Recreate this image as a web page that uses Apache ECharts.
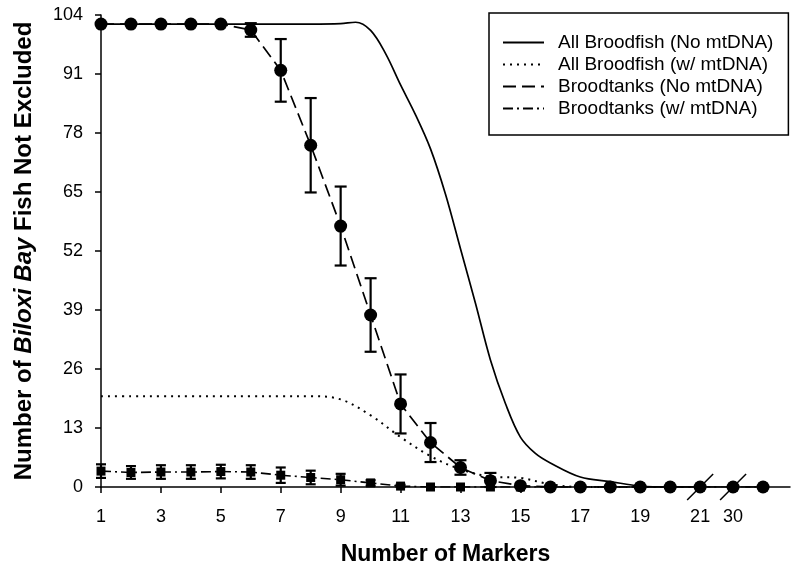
<!DOCTYPE html>
<html>
<head>
<meta charset="utf-8">
<script src="https://cdn.jsdelivr.net/npm/echarts@6/dist/echarts.min.js"></script>
<style>
    html, body { margin: 0; padding: 0; background: #fff; }
    #chart { width: 791px; height: 567px; }
</style>
</head>
<body>
<div id="chart"></div>
<script>
    // marker counts shown on the x axis (axis is broken between 21 and 30)
    var markers = [1, 2, 3, 4, 5, 6, 7, 8, 9, 10, 11, 12, 13, 14, 15, 16, 17, 18, 19, 20, 21, 30, 31];
    var xTickLabels = ['1', '3', '5', '7', '9', '11', '13', '15', '17', '19', '21', '30'];
    var yTicks = [0, 13, 26, 39, 52, 65, 78, 91, 104];

    // Broodtanks (No mtDNA): mean and error
    var tankNo = [102, 102, 102, 102, 102, 100.7, 91.8, 75.3, 57.5, 37.9, 18.3, 9.8, 4.3, 1.4, 0.3, 0, 0, 0, 0, 0, 0, 0, 0];
    var tankNoErr = [0, 0, 0, 0, 0, 1.5, 6.9, 10.4, 8.7, 8.1, 6.5, 4.3, 1.6, 1.7, 0, 0, 0, 0, 0, 0, 0, 0, 0];

    // Broodtanks (w/ mtDNA): mean and error
    var tankMt = [3.5, 3.2, 3.3, 3.3, 3.4, 3.3, 2.6, 2.1, 1.6, 0.9, 0.2, 0, 0, 0, 0, 0, 0, 0, 0, 0, 0, 0, 0];
    var tankMtErr = [1.5, 1.4, 1.5, 1.5, 1.5, 1.5, 1.7, 1.5, 1.3, 0.6, 0.3, 0, 0, 0, 0, 0, 0, 0, 0, 0, 0, 0, 0];

    // All Broodfish (No mtDNA), smooth curve
    var allNoX = [1, 2, 3, 4, 5, 6, 7, 8, 9, 9.5, 10, 10.5, 11, 11.5, 12, 12.5, 13, 13.5, 14, 14.5, 15, 15.5, 16, 17, 18, 19, 20, 21];
    var allNoY = [102, 102, 102, 102, 102, 102, 102, 102, 102.1, 102.4, 100.6, 95.5, 88.6, 82, 74.5, 64.5, 52.5, 40.5, 28, 18.4, 11, 7.4, 5.3, 2.2, 1.2, 0.2, 0, 0];

    // All Broodfish (w/ mtDNA), smooth curve
    var allMtX = [1, 2, 3, 4, 5, 6, 7, 8, 9, 10, 11, 12, 13, 14, 15, 16, 17, 18, 19, 20, 21];
    var allMtY = [20, 20, 20, 20, 20, 20, 20, 20, 19.3, 15.8, 11, 6.8, 3.9, 2.3, 2.0, 0.6, 0, 0, 0, 0, 0];

    var breakMarks = [21, 30];

    // position on the axis: after the break the markers continue right next to 21
    function pos(m) {
        return m <= 21 ? m : m - 30 + 22.1;
    }

    var labelPos = xTickLabels.map(function (t) { return pos(+t); });
    var FONT = '"Liberation Sans", Arial, sans-serif';

    function errorBars(cap) {
        return function (params, api) {
            var x = api.value(0), lo = api.value(1), hi = api.value(2);
            if (hi - lo <= 0) return;
            var a = api.coord([x, hi]);
            var b = api.coord([x, lo]);
            var st = { stroke: '#000', lineWidth: 2.2 };
            return {
                type: 'group',
                children: [
                    { type: 'line', shape: { x1: a[0], y1: a[1], x2: b[0], y2: b[1] }, style: st },
                    { type: 'line', shape: { x1: a[0] - cap, y1: a[1], x2: a[0] + cap, y2: a[1] }, style: st },
                    { type: 'line', shape: { x1: b[0] - cap, y1: b[1], x2: b[0] + cap, y2: b[1] }, style: st }
                ]
            };
        };
    }

    function errData(mean, err) {
        return markers.map(function (m, i) {
            return [pos(m), Math.max(0, mean[i] - err[i]), mean[i] + err[i]];
        });
    }

    var chart = echarts.init(document.getElementById('chart'));

    var option = {
        animation: false,
        backgroundColor: '#fff',
        grid: { left: 101, right: 1, top: 15, bottom: 80, outerBoundsMode: 'none' },
        legend: {
            data: ['All Broodfish (No mtDNA)', 'All Broodfish (w/ mtDNA)', 'Broodtanks (No mtDNA)', 'Broodtanks (w/ mtDNA)'],
            orient: 'vertical',
            left: 489,
            top: 13,
            padding: [20, 15, 17, 13],
            borderColor: '#000',
            borderWidth: 1.5,
            itemWidth: 41,
            itemHeight: 14,
            itemGap: 3,
            itemStyle: { opacity: 0 },
            textStyle: { fontSize: 19, lineHeight: 18, color: '#000', fontFamily: FONT, padding: [0, 0, 0, 9] }
        },
        xAxis: {
            type: 'value',
            min: 1,
            max: 24,
            interval: 1,
            name: 'Number of Markers',
            nameLocation: 'middle',
            nameGap: 56,
            nameTextStyle: { fontSize: 23, fontWeight: 'bold', color: '#000', fontFamily: FONT },
            splitLine: { show: false },
            axisLine: { onZero: false, lineStyle: { color: '#000', width: 1.5 } },
            axisTick: {
                customValues: labelPos.slice(0, 11),
                length: 6,
                lineStyle: { color: '#000', width: 1.5 }
            },
            axisLabel: {
                customValues: labelPos,
                margin: 21,
                fontSize: 18,
                color: '#000',
                fontFamily: FONT,
                formatter: function (v) {
                    for (var i = 0; i < labelPos.length; i++) {
                        if (Math.abs(labelPos[i] - v) < 1e-6) return xTickLabels[i];
                    }
                    return '';
                }
            }
        },
        yAxis: {
            type: 'value',
            min: 0,
            max: 104,
            interval: 13,
            name: '{b|Number of }{i|Biloxi Bay}{b| Fish Not Excluded}',
            nameLocation: 'middle',
            nameRotate: 90,
            nameGap: 65,
            nameTextStyle: {
                rich: {
                    b: { fontSize: 24, fontWeight: 'bold', color: '#000', fontFamily: FONT },
                    i: { fontSize: 24, fontWeight: 'bold', fontStyle: 'italic', color: '#000', fontFamily: FONT }
                }
            },
            splitLine: { show: false },
            axisLine: { show: true, lineStyle: { color: '#000', width: 1.5 } },
            axisTick: { show: true, length: 6, lineStyle: { color: '#000', width: 1.5 } },
            axisLabel: {
                margin: 18,
                fontSize: 18,
                color: '#000',
                fontFamily: FONT,
                customValues: yTicks
            }
        },
        series: [
            {
                name: 'All Broodfish (No mtDNA)',
                type: 'line',
                symbol: 'none',
                smooth: 0.35,
                lineStyle: { color: '#000', width: 1.7, type: 'solid' },
                itemStyle: { color: '#000' },
                data: allNoX.map(function (x, i) { return [x, allNoY[i]]; })
            },
            {
                name: 'All Broodfish (w/ mtDNA)',
                type: 'line',
                symbol: 'none',
                smooth: 0.35,
                lineStyle: { color: '#000', width: 2, type: [2, 5] },
                itemStyle: { color: '#000' },
                data: allMtX.map(function (x, i) { return [x, allMtY[i]]; })
            },
            {
                name: 'Broodtanks (No mtDNA)',
                type: 'line',
                symbol: 'none',
                lineStyle: { color: '#000', width: 1.7, type: [13, 6] },
                itemStyle: { color: '#000' },
                data: markers.map(function (m, i) { return [pos(m), tankNo[i]]; })
            },
            {
                name: 'Broodtanks (w/ mtDNA)',
                type: 'line',
                symbol: 'none',
                lineStyle: { color: '#000', width: 1.6, type: [10, 4, 2, 4] },
                itemStyle: { color: '#000' },
                data: markers.map(function (m, i) { return [pos(m), tankMt[i]]; })
            },
            {
                name: 'errNo',
                type: 'custom',
                renderItem: errorBars(6),
                encode: { x: 0, y: [1, 2] },
                data: errData(tankNo, tankNoErr),
                z: 3
            },
            {
                name: 'errMt',
                type: 'custom',
                renderItem: errorBars(5),
                encode: { x: 0, y: [1, 2] },
                data: errData(tankMt, tankMtErr),
                z: 3
            },
            {
                name: 'ptsMt',
                type: 'scatter',
                symbol: 'rect',
                symbolSize: 9,
                itemStyle: { color: '#000', opacity: 1 },
                data: markers.map(function (m, i) { return [pos(m), tankMt[i]]; }),
                z: 4
            },
            {
                name: 'ptsNo',
                type: 'scatter',
                symbol: 'circle',
                symbolSize: 13,
                itemStyle: { color: '#000', opacity: 1 },
                data: markers.map(function (m, i) { return [pos(m), tankNo[i]]; }),
                z: 5
            },
            {
                name: 'breaks',
                type: 'custom',
                clip: false,
                renderItem: function (params, api) {
                    var c = api.coord([api.value(0), api.value(1)]);
                    return {
                        type: 'line',
                        shape: { x1: c[0] - 13, y1: c[1] + 13, x2: c[0] + 13, y2: c[1] - 13 },
                        style: { stroke: '#000', lineWidth: 1.5 }
                    };
                },
                encode: { x: 0, y: 1 },
                data: breakMarks.map(function (m) { return [pos(m), 0]; }),
                z: 6
            }
        ]
    };

    chart.setOption(option);
</script>
</body>
</html>
